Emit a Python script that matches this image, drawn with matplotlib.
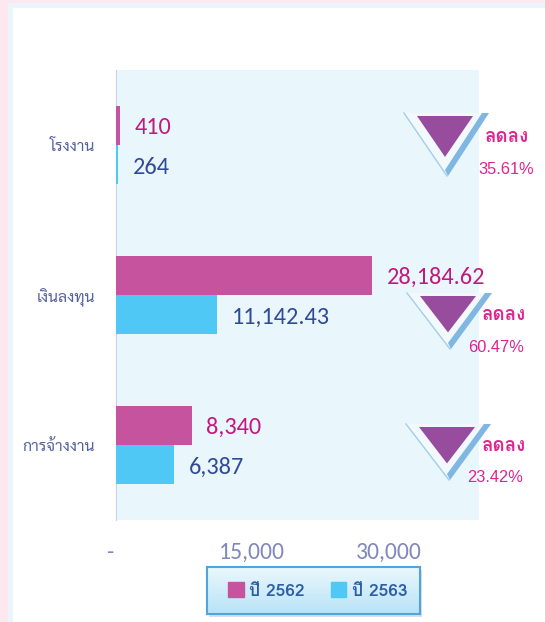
import matplotlib
matplotlib.use("Agg")
import matplotlib.pyplot as plt
import numpy as np
from matplotlib import font_manager as fm
from matplotlib.lines import Line2D
from matplotlib.patches import Patch, Polygon, Rectangle
from matplotlib.transforms import ScaledTranslation

# ---------- data ----------
categories = ["โรงงาน", "เงินลงทุน", "การจ้างงาน"]
values_2562 = [410, 28184.62, 8340]
values_2563 = [264, 11142.43, 6387]
labels_2562 = ["410", "28,184.62", "8,340"]
labels_2563 = ["264", "11,142.43", "6,387"]
changes = ["35.61%", "60.47%", "23.42%"]
change_word = "ลดลง"
legend_names = ["ปี 2562", "ปี 2563"]
ticks = [0, 15000, 30000]
tick_labels = ["-", "15,000", "30,000"]

W, H = 545, 622
PINK = "#C6539E"
SKY = "#4FC8F5"
have = {f.name for f in fm.fontManager.ttflist}
# Carlito is closest to the original's numbers, Lato is the wider stand-in
carlito = "Carlito" in have
NUM_FONT = ["Carlito" if carlito else "Lato", "DejaVu Sans"]
NUM_SIZE = 17.5 if carlito else 15.5
TICK_SIZE = 17 if carlito else 15
THAI = ["Sarabun", "DejaVu Sans"]
LOOP = ["Loma", "DejaVu Sans"]

fig = plt.figure(figsize=(W / 100, H / 100), dpi=100, facecolor="white")


def px(x, y):
    return x / W, 1 - y / H


def frame(x0, y0, x1, y1, color, z=-5, alpha=1):
    fig.add_artist(Rectangle(px(x0, y1), (x1 - x0) / W, (y1 - y0) / H, color=color, lw=0, zorder=z,
                             alpha=alpha, transform=fig.transFigure))


# background page
frame(0, 0, W, H, "#FDE8EF")
frame(8, 3, W, H, "#EAF5FC")
frame(13, 8, W, H, "white")

# ---------- chart ----------
ax = fig.add_axes([116 / W, 1 - 520 / H, (479 - 116) / W, 450 / H], zorder=1)
ax.set_facecolor("#E9F6FC")
y = np.arange(3)
h = 0.263
ax.barh(y - h / 2, values_2562, height=h, color=PINK)
ax.barh(y + h / 2, values_2563, height=h, color=SKY)
ax.set_xlim(0, 39950)
ax.set_ylim(2.5, -0.5)
ax.set_xticks(ticks)
ax.set_xticklabels(tick_labels, fontsize=TICK_SIZE, color="#8088BE", family=NUM_FONT)
ax.set_yticks(y)
ax.set_yticklabels(categories, fontsize=11.3, color="#55619F", family=THAI)
ax.tick_params(axis="x", length=0, pad=16)
ax.tick_params(axis="y", length=0, pad=15)
# tick_params resets label transforms, so the dash is moved after it
dash = ax.get_xticklabels()[0]
dash.set_transform(dash.get_transform() + ScaledTranslation(-6 / 100, 0, fig.dpi_scale_trans))
for s in ["top", "right", "bottom"]:
    ax.spines[s].set_visible(False)
ax.spines["left"].set_color("#C5D3E8")
ax.spines["left"].set_zorder(0.5)

for i in range(3):
    ax.annotate(labels_2562[i], (values_2562[i], i - h / 2), xytext=(10.5, -1.5), textcoords="offset points",
                va="center", fontsize=NUM_SIZE, color="#C2187F", family=NUM_FONT)
    ax.annotate(labels_2563[i], (values_2563[i], i + h / 2), xytext=(10.5, -2), textcoords="offset points",
                va="center", fontsize=NUM_SIZE, color="#2F4A9A", family=NUM_FONT)


# ---------- down arrows ----------
def arrow(x, top, ht, word_xy, pct_xy, i):
    tip = (x + 43, top + ht)
    face = [(x, top), (x + 85, top), tip]
    back = [(x + 78, top), (x + 85, top), (tip[0] + 1, tip[1]), (tip[0] - 2, tip[1] - 6)]
    inner = [(x + 13, top + 3), (x + 69, top + 3), (x + 41, top + 3 + 0.65 * ht)]
    fig.add_artist(Polygon([px(*p) for p in face], closed=True, fc="#F3F8FD", lw=0, zorder=3,
                           transform=fig.transFigure))
    fig.add_artist(Line2D(*zip(px(x, top), px(*tip)), color="#A0CFEA", lw=1, zorder=3,
                          transform=fig.transFigure))
    fig.add_artist(Polygon([px(*p) for p in back], closed=True, fc="#7FB6E2", lw=0, zorder=3,
                           transform=fig.transFigure))
    fig.add_artist(Polygon([px(*p) for p in inner], closed=True, fc="#974C9E", lw=0, zorder=3,
                           transform=fig.transFigure))
    fig.text(*px(*word_xy), change_word, ha="center", va="center", fontsize=13.5, fontweight="bold",
             color="#DE2490", family=LOOP, zorder=4)
    fig.text(*px(*pct_xy), changes[i], ha="center", va="center", fontsize=11.8,
             color="#DE2490", family=["Liberation Sans"], zorder=4)


arrow(404, 113, 63, (507, 137), (506, 169), 0)
arrow(407, 293, 56, (504, 315), (496, 347), 1)
arrow(406, 424, 56, (504, 446), (495, 478), 2)

# ---------- legend ----------
frame(209, 570, 422, 617, "#C9C4DC", z=0, alpha=0.6)
lax = fig.add_axes([207 / W, 1 - 614 / H, 213 / W, 47 / H], zorder=2)
grad = np.linspace(0, 1, 64).reshape(-1, 1)
c0, c1 = np.array([0.92, 0.97, 0.99]), np.array([0.72, 0.89, 0.97])
lax.imshow(c0 + (c1 - c0) * grad[..., None], aspect="auto", extent=(0, 1, 0, 1))
lax.set_xticks([])
lax.set_yticks([])
for s in lax.spines.values():
    s.set_color("#4FA6DC")
    s.set_linewidth(1.5)
leg = lax.legend([Patch(color=PINK), Patch(color=SKY)], legend_names, loc="center", bbox_to_anchor=(0.52, 0.5),
                 ncol=2, frameon=False, prop={"family": LOOP, "size": 12.5, "weight": "bold"},
                 handlelength=0.9, handleheight=0.9, handletextpad=0.3, columnspacing=1.5, borderaxespad=0)
for t in leg.get_texts():
    t.set_color("#2C5FA8")

fig.savefig("out.png", dpi=100)
